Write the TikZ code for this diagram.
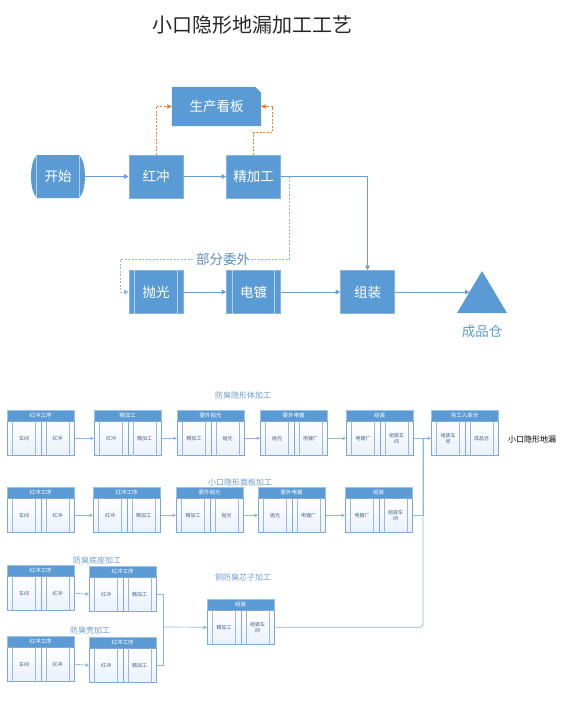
\documentclass[tikz,border=0pt]{standalone}
\usepackage{fontspec}
\setmainfont{Noto Sans CJK SC}
\usetikzlibrary{arrows.meta,backgrounds}
\definecolor{mblue}{HTML}{5B9BD5}
\definecolor{bline}{HTML}{6A9FD6}
\definecolor{lline}{HTML}{8DB8E4}
\definecolor{cellb}{HTML}{7EA6D6}
\definecolor{orng}{HTML}{ED7D31}
\definecolor{ttl}{HTML}{6A9AD0}
\definecolor{celltxt}{HTML}{44608A}
\definecolor{cellbot}{HTML}{EAF1FA}
\tikzset{
  box/.style={rectangle, fill=mblue, draw=mblue!75!white, line width=0.6pt, text=white,
    minimum width=54pt, minimum height=43pt, inner sep=0pt, font=\fontsize{13.5}{16}\selectfont},
  plain/.style={rectangle, minimum width=54pt, minimum height=43pt, inner sep=0pt, text=white,
    font=\fontsize{13.5}{16}\selectfont},
  ppline/.style={draw=mblue!45!white, line width=0.8pt},
  flow/.style={draw=bline, line width=0.8pt, -{Triangle[length=4.5pt,width=4.5pt]}},
  dblue/.style={draw=lline, line width=0.8pt, dash pattern=on 2pt off 1.5pt, -{Triangle[length=4.5pt,width=4.5pt]}},
  dorng/.style={draw=orng, line width=0.8pt, dash pattern=on 2pt off 1.5pt, -{Triangle[length=4.5pt,width=4.5pt]}},
  hdr/.style={rectangle, fill=mblue, draw=mblue!60!white, line width=0.4pt, minimum width=67pt,
    minimum height=11pt, inner sep=0pt, text=white, font=\fontsize{5.5}{6.5}\selectfont},
  cel/.style={rectangle, draw=cellb, line width=0.5pt, top color=white, bottom color=cellbot,
    minimum width=33.5pt, minimum height=34pt, inner sep=0pt, text=celltxt, align=center,
    font=\fontsize{5}{6}\selectfont},
  cline/.style={draw=cellb!80!white, line width=0.4pt},
  lflow/.style={draw=lline, line width=0.7pt, -{Triangle[length=3.5pt,width=3.5pt]}, shorten >=0pt},
  lpath/.style={draw=lline, line width=0.7pt},
  rowttl/.style={text=ttl, font=\fontsize{8}{9}\selectfont, inner sep=0pt},
}
\newcommand\pblk[6]{%
  \node[hdr,anchor=north west] (#1h) at (#2,#3) {#4};
  \node[cel,anchor=north west] (#1a) at (#2,#3+11) {#5};
  \node[cel,anchor=north west] (#1b) at (#2+33.5,#3+11) {#6};
  \draw[cline] ([xshift=5.5pt]#1a.north west) -- ([xshift=5.5pt]#1a.south west);
  \draw[cline] ([xshift=-5.5pt]#1a.north east) -- ([xshift=-5.5pt]#1a.south east);
  \draw[cline] ([xshift=5.5pt]#1b.north west) -- ([xshift=5.5pt]#1b.south west);
  \draw[cline] ([xshift=-5.5pt]#1b.north east) -- ([xshift=-5.5pt]#1b.south east);
}
\begin{document}
\begin{tikzpicture}[x=1pt,y=-1pt]
\useasboundingbox (0,0) rectangle (566,709);

% title
\node[font=\fontsize{20}{24}\selectfont, text=black!85] (title) at (252,25) {小口隐形地漏加工工艺};

% top flow
\node[plain] (kanban) at (216.5,106.5) [minimum width=89pt, minimum height=39pt] {生产看板};
\node[plain, minimum width=42pt] (start) at (58,176.5) {开始};
\node[box] (hc) at (156,176.5) {红冲};
\node[box] (jg) at (253.5,176.5) {精加工};
\node[box] (pg) at (156,292) {抛光};
\node[box] (dd) at (253.5,292) {电镀};
\node[box] (zz) at (367.5,292) {组装};
\node[text=mblue, font=\fontsize{13.5}{16}\selectfont, inner sep=0pt] (cangl) at (482,331) {成品仓};

\begin{scope}[on background layer]
  \fill[mblue] (kanban.south west) -- (kanban.north west) -- ([xshift=-6pt]kanban.north east)
     -- ([yshift=-6pt]kanban.north east) -- (kanban.south east) -- cycle;
  \fill[mblue] (37,155) -- (79,155) .. controls (87,162) and (87,191) .. (79,198)
     -- (37,198) .. controls (29,191) and (29,162) .. (37,155) -- cycle;
  \draw[ppline] (start.north west) -- (start.south west);
  \draw[ppline] (start.north east) -- (start.south east);
\end{scope}
\fill[mblue] (457,313) -- (482,271) -- (507,313) -- cycle;
\coordinate (cang) at (469.5,292);

\draw[ppline] ([xshift=6pt]pg.north west) -- ([xshift=6pt]pg.south west);
\draw[ppline] ([xshift=-6pt]pg.north east) -- ([xshift=-6pt]pg.south east);
\draw[ppline] ([xshift=6pt]dd.north west) -- ([xshift=6pt]dd.south west);
\draw[ppline] ([xshift=-6pt]dd.north east) -- ([xshift=-6pt]dd.south east);

\draw[flow] ([xshift=6pt]start.east) -- (hc.west);
\draw[flow] (hc.east) -- (jg.west);
\draw[flow] (jg.east) -| (zz.north);
\draw[flow] (pg.east) -- (dd.west);
\draw[flow] (dd.east) -- (zz.west);
\draw[flow] (zz.east) -- (cang);

\coordinate (d0) at (289,176.5);
\draw[dblue] (d0) -- ++(0,82.5) -| ([xshift=-8pt]pg.west) -- (pg.west);
\node[fill=white, inner sep=1pt, text=ttl!90!black, font=\fontsize{13.5}{16}\selectfont] (bfww) at (223,259) {部分委外};

\draw[dorng] (hc.north) |- (kanban.west);
\draw[dorng] (jg.north) -- ++(0,-22) -| ([xshift=11pt]kanban.east) -- (kanban.east);

% ---- bottom part ----
\node[rowttl] (t1) at (243,395) {防臭隐形体加工};
\node[rowttl, text=black] (t0) at (532,439) {小口隐形地漏};
\pblk{ra}{7}{410}{红冲工序}{车间}{红冲}
\pblk{rb}{94}{410}{精加工}{红冲}{精加工}
\pblk{rc}{177}{410}{委外抛光}{精加工}{抛光}
\pblk{rd}{260}{410}{委外电镀}{抛光}{电镀厂}
\pblk{re}{346}{410}{组装}{电镀厂}{组装车\\间}
\pblk{rf}{431}{410}{完工入库仓}{组装车\\间}{成品仓}
\draw[lflow] (rab.east) -- (rba.west);
\draw[lflow] (rbb.east) -- (rca.west);
\draw[lflow] (rcb.east) -- (rda.west);
\draw[lflow] (rdb.east) -- (rea.west);
\draw[lflow] (reb.east) -- (rfa.west);

\node[rowttl] (t2) at (240,482) {小口隐形面板加工};
\pblk{sa}{7}{487}{红冲工序}{车间}{红冲}
\pblk{sb}{93}{487}{红冲工序}{红冲}{精加工}
\pblk{sc}{176}{487}{委外抛光}{精加工}{抛光}
\pblk{sd}{258}{487}{委外电镀}{抛光}{电镀厂}
\pblk{se}{345}{487}{组装}{电镀厂}{组装车\\间}
\draw[lflow] (sab.east) -- (sba.west);
\draw[lflow] (sbb.east) -- (sca.west);
\draw[lflow] (scb.east) -- (sda.west);
\draw[lflow] (sdb.east) -- (sea.west);

\node[rowttl] (t3) at (97,560) {防臭底座加工};
\pblk{ua}{7}{565}{红冲工序}{车间}{红冲}
\pblk{ub}{89}{566}{红冲工序}{红冲}{精加工}
\draw[lflow] (uab.east) -- (uba.west);

\node[rowttl] (t4) at (90,630) {防臭壳加工};
\pblk{va}{7}{636}{红冲工序}{车间}{红冲}
\pblk{vb}{89}{637}{红冲工序}{红冲}{精加工}
\draw[lflow] (vab.east) -- (vba.west);

\node[rowttl] (t5) at (243,577) {铜防臭芯子加工};
\pblk{wa}{207}{599}{组装}{精加工}{组装车\\间}

\coordinate (J) at (423,438);
\coordinate (M) at (163,627);
\draw[lpath] (seb.east) -| (J);
\draw[lpath, rounded corners=3pt] (wab.east) -| (J);
\draw[lpath] (ubb.east) -| (M);
\draw[lpath] (vbb.east) -| (M);
\draw[lflow] (M) -- (waa.west);
\end{tikzpicture}
\end{document}
